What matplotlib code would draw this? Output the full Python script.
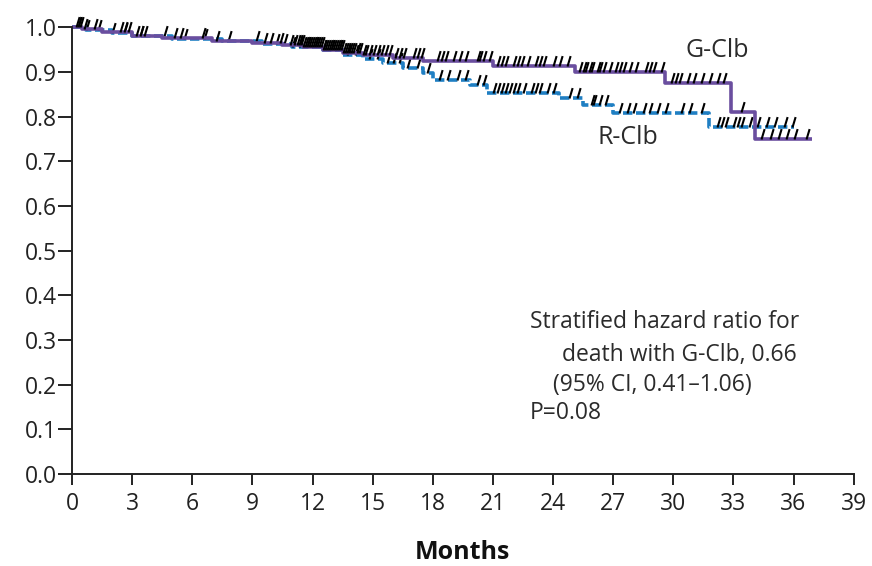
import numpy as np
import matplotlib
matplotlib.use("Agg")
import matplotlib.pyplot as plt
from matplotlib.path import Path

# Kaplan-Meier step data: event times (months) and survival after each step
g_times = [0, 0.5, 1.5, 3.0, 4.5, 7.0, 9.0, 10.5, 11.5, 12.5, 13.5, 14.5, 16.0,
           17.5, 21.0, 25.1, 29.6, 32.9, 34.1]
g_surv = [1.0, 0.995, 0.99, 0.98, 0.975, 0.97, 0.965, 0.96, 0.955, 0.948, 0.942,
          0.937, 0.932, 0.924, 0.912, 0.899, 0.875, 0.81, 0.749]
g_end = 36.9

r_times = [0, 0.7, 2.0, 3.0, 5.0, 7.5, 9.5, 11.0, 12.5, 13.5, 14.5, 15.5, 16.5,
           17.5, 18.0, 19.85, 20.7, 24.3, 25.5, 27.0, 31.8]
r_surv = [1.0, 0.993, 0.988, 0.98, 0.974, 0.968, 0.963, 0.956, 0.948, 0.938,
          0.928, 0.92, 0.908, 0.898, 0.881, 0.870, 0.852, 0.842, 0.826, 0.808, 0.776]
r_end = 36.0

# Censoring times (months)
g_censor = [0.2, 0.3, 0.4, 0.6, 1.1, 2.4, 2.6, 2.8, 3.2, 3.4, 3.6, 5.1, 5.4, 6.5,
            7.2, 9.6, 9.9, 10.4, 10.9, 11.1, 11.2, 11.3, 11.4, 11.5, 11.6, 11.7,
            11.8, 11.9, 12.0, 12.1, 12.2, 12.3, 12.4, 12.5, 12.6, 12.7, 12.8, 12.9,
            13.0, 13.1, 13.2, 13.3, 13.4, 13.5, 13.6, 13.7, 13.8, 13.9, 14.0, 14.2,
            14.3, 14.5, 14.6, 14.8, 15.0, 15.2, 15.4, 15.6, 15.8, 16.1, 16.3, 16.5,
            17.0, 17.2, 17.4, 18.2, 18.4, 18.6, 19.0, 19.3, 19.6, 20.2, 20.3, 20.5,
            20.8, 21.2, 21.4, 21.6, 22.0, 22.2, 22.4, 22.7, 23.1, 23.3, 23.5, 24.0,
            24.3, 24.7, 25.3, 25.5, 25.6, 25.8, 25.9, 26.2, 26.3, 26.5, 26.8, 27.1,
            27.3, 27.5, 27.8, 28.1, 28.6, 28.8, 29.0, 29.4, 29.9, 30.1, 30.3, 30.7,
            31.0, 31.4, 31.8, 32.2, 32.5, 33.4, 34.4, 34.8, 35.2, 35.6, 36.0, 36.6]
r_censor = [0.3, 0.7, 1.3, 2.0, 2.6, 3.4, 4.6, 5.6, 6.6, 7.8, 9.2, 10.2, 10.6,
            11.0, 11.3, 11.7, 12.1, 12.5, 12.9, 13.3, 13.7, 14.1, 14.8, 15.2, 15.7,
            16.0, 16.3, 16.7, 17.2, 17.7, 18.3, 18.7, 19.2, 19.6, 20.2, 20.5, 21.0,
            21.2, 21.4, 21.6, 21.8, 22.0, 22.2, 22.5, 22.9, 23.1, 23.3, 23.7, 24.0,
            24.8, 25.2, 25.9, 26.0, 26.3, 26.6, 27.3, 27.7, 28.0, 28.5, 28.8, 29.2,
            29.6, 30.4, 30.8, 31.4, 32.2, 32.4, 32.6, 33.0, 33.2, 33.4, 33.8, 34.2,
            34.6, 35.0, 35.5, 35.9]

x_ticks = list(range(0, 40, 3))
y_ticks = [0.0, 0.1, 0.2, 0.3, 0.4, 0.5, 0.6, 0.7, 0.8, 0.9, 1.0]

purple = "#6a4e9f"
blue = "#1f7fc3"
font = "Open Sans"
text_color = "#2b2b2b"

plt.rcParams["font.family"] = [font, "DejaVu Sans"]

fig = plt.figure(figsize=(8.72, 5.66), dpi=100)
ax = fig.add_axes([0.0826, 0.1625, 0.8964, 0.7895])


def step_value(times, surv, t):
    idx = np.searchsorted(times, t, side="right") - 1
    return surv[idx]


# slanted censoring tick, anchored at its lower end
tick_path = Path([(0, 0), (0.3, 1.0)], [Path.MOVETO, Path.LINETO])

for times, surv, end, color, censor, dash in [
    (r_times, r_surv, r_end, blue, r_censor, (2.6, 1.0)),
    (g_times, g_surv, g_end, purple, g_censor, None),
]:
    xs = list(times) + [end]
    ys = list(surv) + [surv[-1]]
    line, = ax.step(xs, ys, where="post", color=color, lw=2.6, clip_on=False,
                    solid_capstyle="butt")
    if dash:
        line.set_dashes(dash)
    cy = [step_value(times, surv, t) for t in censor]
    ax.plot(censor, cy, linestyle="none", marker=tick_path, markersize=15,
            markeredgecolor="black", markeredgewidth=1.5, clip_on=False)

ax.set_xlim(0, 39)
ax.set_ylim(0, 1.0)
ax.set_xticks(x_ticks)
ax.set_xticklabels([str(v) for v in x_ticks])
ax.set_yticks(y_ticks)
ax.set_yticklabels([f"{v:.1f}" for v in y_ticks])

for side in ("top", "right"):
    ax.spines[side].set_visible(False)
for side in ("left", "bottom"):
    ax.spines[side].set_linewidth(1.4)
    ax.spines[side].set_color("#222222")

ax.tick_params(axis="x", direction="out", length=8, width=1.4, pad=5,
               labelsize=16.5, colors="#222222")
ax.tick_params(axis="y", direction="out", length=10, width=1.4, pad=1,
               labelsize=16.5, colors="#222222")

ax.set_xlabel("Months", fontsize=18, fontweight="bold", labelpad=17,
              color="#111111")

ax.text(30.6, 0.948, "G-Clb", fontsize=18, color=text_color, va="center", ha="left")
ax.text(26.2, 0.752, "R-Clb", fontsize=18, color=text_color, va="center", ha="left")

ann = 16.5
ax.text(22.84, 0.340, "Stratified hazard ratio for", fontsize=ann,
        color=text_color, va="center", ha="left")
ax.text(24.44, 0.266, "death with G-Clb, 0.66", fontsize=ann,
        color=text_color, va="center", ha="left")
ax.text(24.0, 0.199, "(95% CI, 0.41\u20131.06)", fontsize=ann,
        color=text_color, va="center", ha="left")
ax.text(22.84, 0.136, "P=0.08", fontsize=ann,
        color=text_color, va="center", ha="left")

fig.savefig("out.png", dpi=100)
